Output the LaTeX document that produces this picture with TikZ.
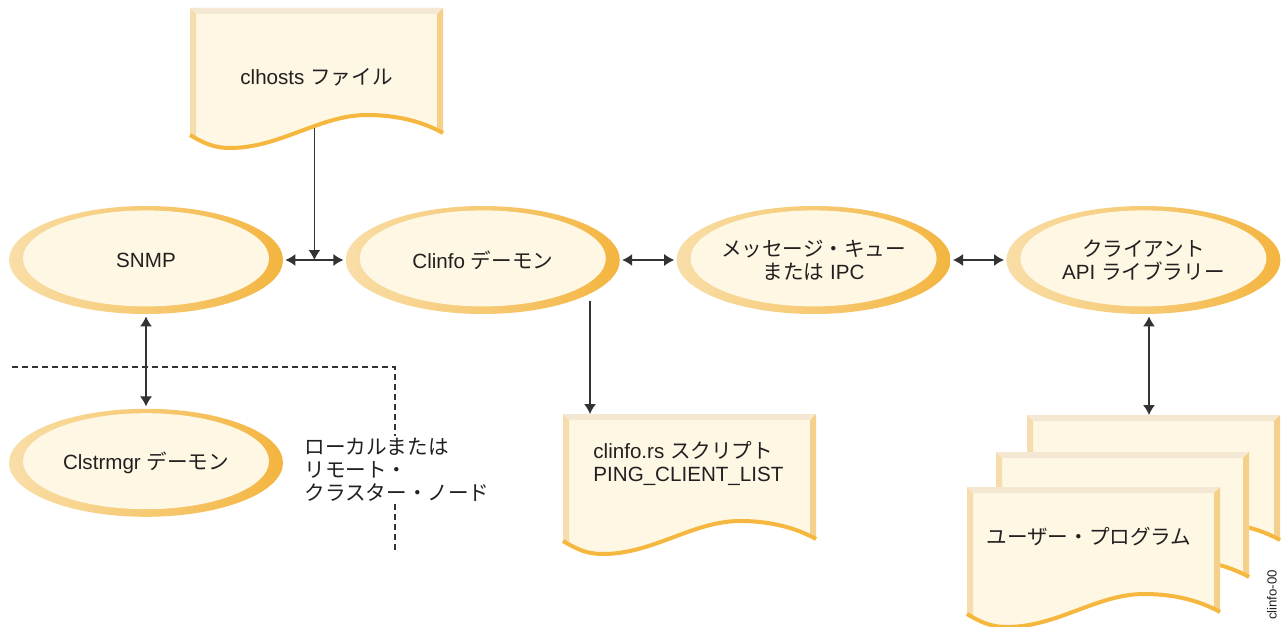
\documentclass[tikz,border=0pt]{standalone}
\usepackage{fontspec}
\setmainfont{Liberation Sans}
\newfontfamily\jpfont{Noto Sans CJK JP}
\newcommand\jtext[1]{{\jpfont #1}}
\usepackage{xcolor}
\usetikzlibrary{calc,shapes.geometric,arrows.meta,positioning}
\definecolor{cream}{HTML}{FDF7E4}
\definecolor{ringL}{HTML}{F9DEA8}
\definecolor{ringR}{HTML}{F4B53F}
\definecolor{docleft}{HTML}{F6DDAD}
\definecolor{doctop}{HTML}{F4E8D2}
\definecolor{docright}{HTML}{F5D08A}
\definecolor{docedge}{HTML}{F5B73D}
\definecolor{ink}{HTML}{231F20}
\definecolor{wire}{HTML}{333333}
\tikzset{>={Latex[length=5pt,width=6pt]}}
% one sheet with a wavy lower edge, #1 = top left corner
\newcommand\docsheet[1]{%
  \begin{scope}[shift={#1}]
    \fill[cream] (0,0) -- (253,0) -- (253,125) .. controls (235,115) and (210,107) .. (177,107)
      .. controls (130,107) and (90,140) .. (40,140) .. controls (25,140) and (15,136) .. (0,127) -- cycle;
    \fill[docleft] (0,0) -- (6,6) -- (6,129) -- (0,127) -- cycle;
    \fill[doctop] (0,0) -- (253,0) -- (247,6) -- (6,6) -- cycle;
    \fill[docright] (253,0) -- (253,125) -- (247,121) -- (247,6) -- cycle;
    \draw[docedge, line width=2pt] (253,125) .. controls (235,115) and (210,107) .. (177,107)
      .. controls (130,107) and (90,140) .. (40,140) .. controls (25,140) and (15,136) .. (0,127);
  \end{scope}}

\begin{document}
\begin{tikzpicture}[x=0.5pt, y=-0.5pt, font=\fontsize{10.3}{11.5}\selectfont, text=ink,
  proc/.style={ellipse, minimum width=137pt, minimum height=54pt, inner sep=0pt, align=center,
    left color=ringL, right color=ringR,
    path picture={\fill[cream] ([yshift=0.8pt]path picture bounding box.center) ellipse (61.5pt and 24pt);}},
  docpage/.style={rectangle, minimum width=126.5pt, minimum height=71pt, inner sep=0pt, outer sep=0pt},
  doctext/.style={inner sep=0pt, align=left},
  link/.style={draw=wire, line width=0.6pt}]
  \useasboundingbox (0,0) rectangle (1283,626);

  % local / remote cluster node boundary
  \draw[wire, line width=0.6pt, dash pattern=on 3pt off 2pt] (12,367) -| (395,550);
  \node[fill=white, inner xsep=2pt, inner ysep=1pt, align=left, anchor=west] (remote) at (300,470)
    {\jtext{ローカルまたは}\\ \jtext{リモート・}\\ \jtext{クラスター・ノード}};

  % daemons and libraries
  \node[proc] (snmp) at (146,260) {SNMP};
  \node[proc, right=31pt of snmp] (clinfo) {Clinfo \jtext{デーモン}};
  \node[proc, right=28pt of clinfo] (queue) {\jtext{メッセージ・キュー}\\ \jtext{または} IPC};
  \node[proc, right=27.5pt of queue] (client) {\jtext{クライアント}\\ API \jtext{ライブラリー}};
  \node[proc, below=47pt of snmp] (clstrmgr) {Clstrmgr \jtext{デーモン}};

  % files
  \docsheet{(190,8)}
  \node[docpage] (clhosts) at (316.5,77) {clhosts \jtext{ファイル}};
  \docsheet{(563,414)}
  \node[docpage] (rs) at (689.5,485) {};
  \node[doctext, anchor=west] (rstext) at ([shift={(15pt,-24.75pt)}]rs.north west)
    {clinfo.rs \jtext{スクリプト}\\ PING\_CLIENT\_LIST};
  \docsheet{(1027,415)}
  \node[docpage] (progback) at (1153.5,486) {};
  \docsheet{(996,452)}
  \node[docpage] (progmid) at (1122.5,523) {};
  \docsheet{(967,487)}
  \node[docpage] (prog) at (1093.5,558) {};
  \node[doctext, anchor=west] (progtext) at ([shift={(9.5pt,-25pt)}]prog.north west)
    {\jtext{ユーザー・プログラム}};

  % connectors
  \coordinate (junc) at ($(snmp.east)!0.5!(clinfo.west)$);
  \draw[link, <->, shorten <=1pt, shorten >=1pt] (snmp) -- (clinfo);
  \draw[link, <->, shorten <=1pt, shorten >=1pt] (clinfo) -- (queue);
  \draw[link, <->, shorten <=1pt, shorten >=1pt] (queue) -- (client);
  \draw[link, <->, shorten <=1pt, shorten >=1pt] (snmp) -- (clstrmgr);
  \draw[link, ->] ([yshift=10pt]clhosts.south -| junc) -- (junc);
  \coordinate (rsin) at ([xshift=13.5pt]rs.north west);
  \draw[link, ->] ([yshift=6.5pt]clinfo.south -| rsin) -- (rsin);
  \coordinate (progin) at ([xshift=61pt]progback.north west);
  \draw[link, <->, shorten <=1pt] (client.south -| progin) -- (progin);

  \node[rotate=90, inner sep=0pt, font=\fontsize{6.6}{8}\selectfont] (figid) at (1272,595) {clinfo-00};
\end{tikzpicture}
\end{document}
